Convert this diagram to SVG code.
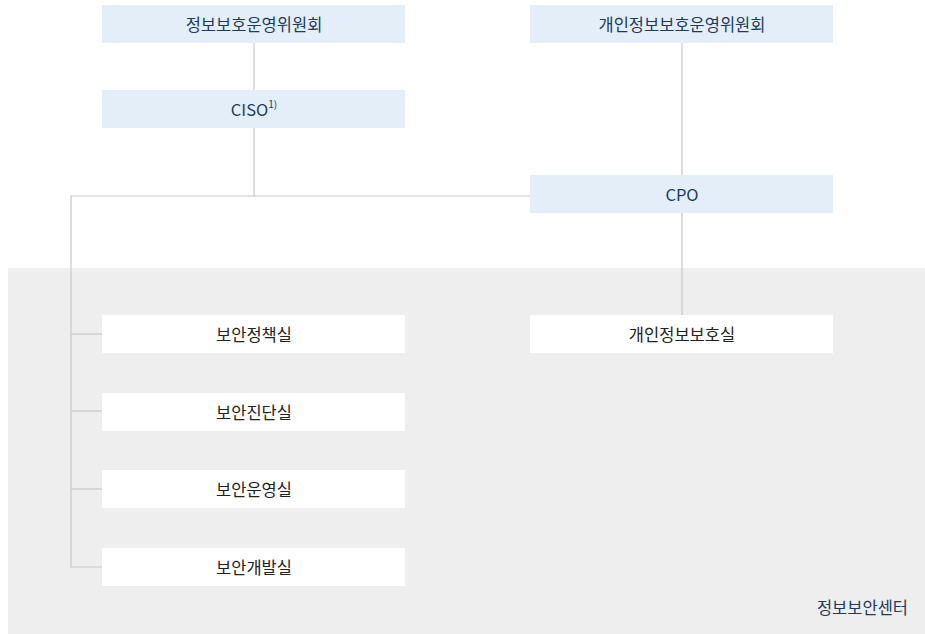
<svg xmlns="http://www.w3.org/2000/svg" width="925" height="634" viewBox="0 0 925 634">
<style>
.top{fill:#e3eef8}
.sub{fill:#ffffff}
.t{font-family:"Noto Sans CJK KR","Noto Sans",sans-serif;font-size:16.5px;text-anchor:middle;dominant-baseline:central}
.tn{fill:#1e3a5c}
.td{fill:#222222}
.ln{stroke:#c8c8c8;stroke-width:1.2;fill:none}
</style>
<rect x="8" y="268" width="917" height="366" fill="#eeeeee"/>
<g id="connectors">
<line class="ln" x1="254" y1="43" x2="254" y2="90"/>
<line class="ln" x1="254" y1="128" x2="254" y2="196"/>
<line class="ln" x1="682" y1="43" x2="682" y2="175"/>
<line class="ln" x1="682" y1="213" x2="682" y2="315"/>
<polyline class="ln" points="530,196 71,196 71,567 102,567"/>
<line class="ln" x1="71" y1="334" x2="102" y2="334"/>
<line class="ln" x1="71" y1="411" x2="102" y2="411"/>
<line class="ln" x1="71" y1="489" x2="102" y2="489"/>
</g>
<g id="n1"><rect class="top" x="102" y="5" width="303" height="38"/><text class="t tn" x="254" y="24">정보보호운영위원회</text></g>
<g id="n2"><rect class="top" x="102" y="90" width="303" height="38"/><text class="t tn" x="254" y="109">CISO<tspan font-size="10" dy="-6">1)</tspan></text></g>
<g id="n3"><rect class="top" x="530" y="5" width="303" height="38"/><text class="t tn" x="682" y="24">개인정보보호운영위원회</text></g>
<g id="n4"><rect class="top" x="530" y="175" width="303" height="38"/><text class="t tn" x="682" y="194">CPO</text></g>
<g id="n5"><rect class="sub" x="102" y="315" width="303" height="38"/><text class="t td" x="254" y="334">보안정책실</text></g>
<g id="n6"><rect class="sub" x="102" y="393" width="303" height="38"/><text class="t td" x="254" y="412">보안진단실</text></g>
<g id="n7"><rect class="sub" x="102" y="470" width="303" height="38"/><text class="t td" x="254" y="489">보안운영실</text></g>
<g id="n8"><rect class="sub" x="102" y="548" width="303" height="38"/><text class="t td" x="254" y="567">보안개발실</text></g>
<g id="n9"><rect class="sub" x="530" y="315" width="303" height="38"/><text class="t td" x="682" y="334">개인정보보호실</text></g>
<g id="n10"><text class="t tn" x="908" y="607" style="text-anchor:end">정보보안센터</text></g>
</svg>
